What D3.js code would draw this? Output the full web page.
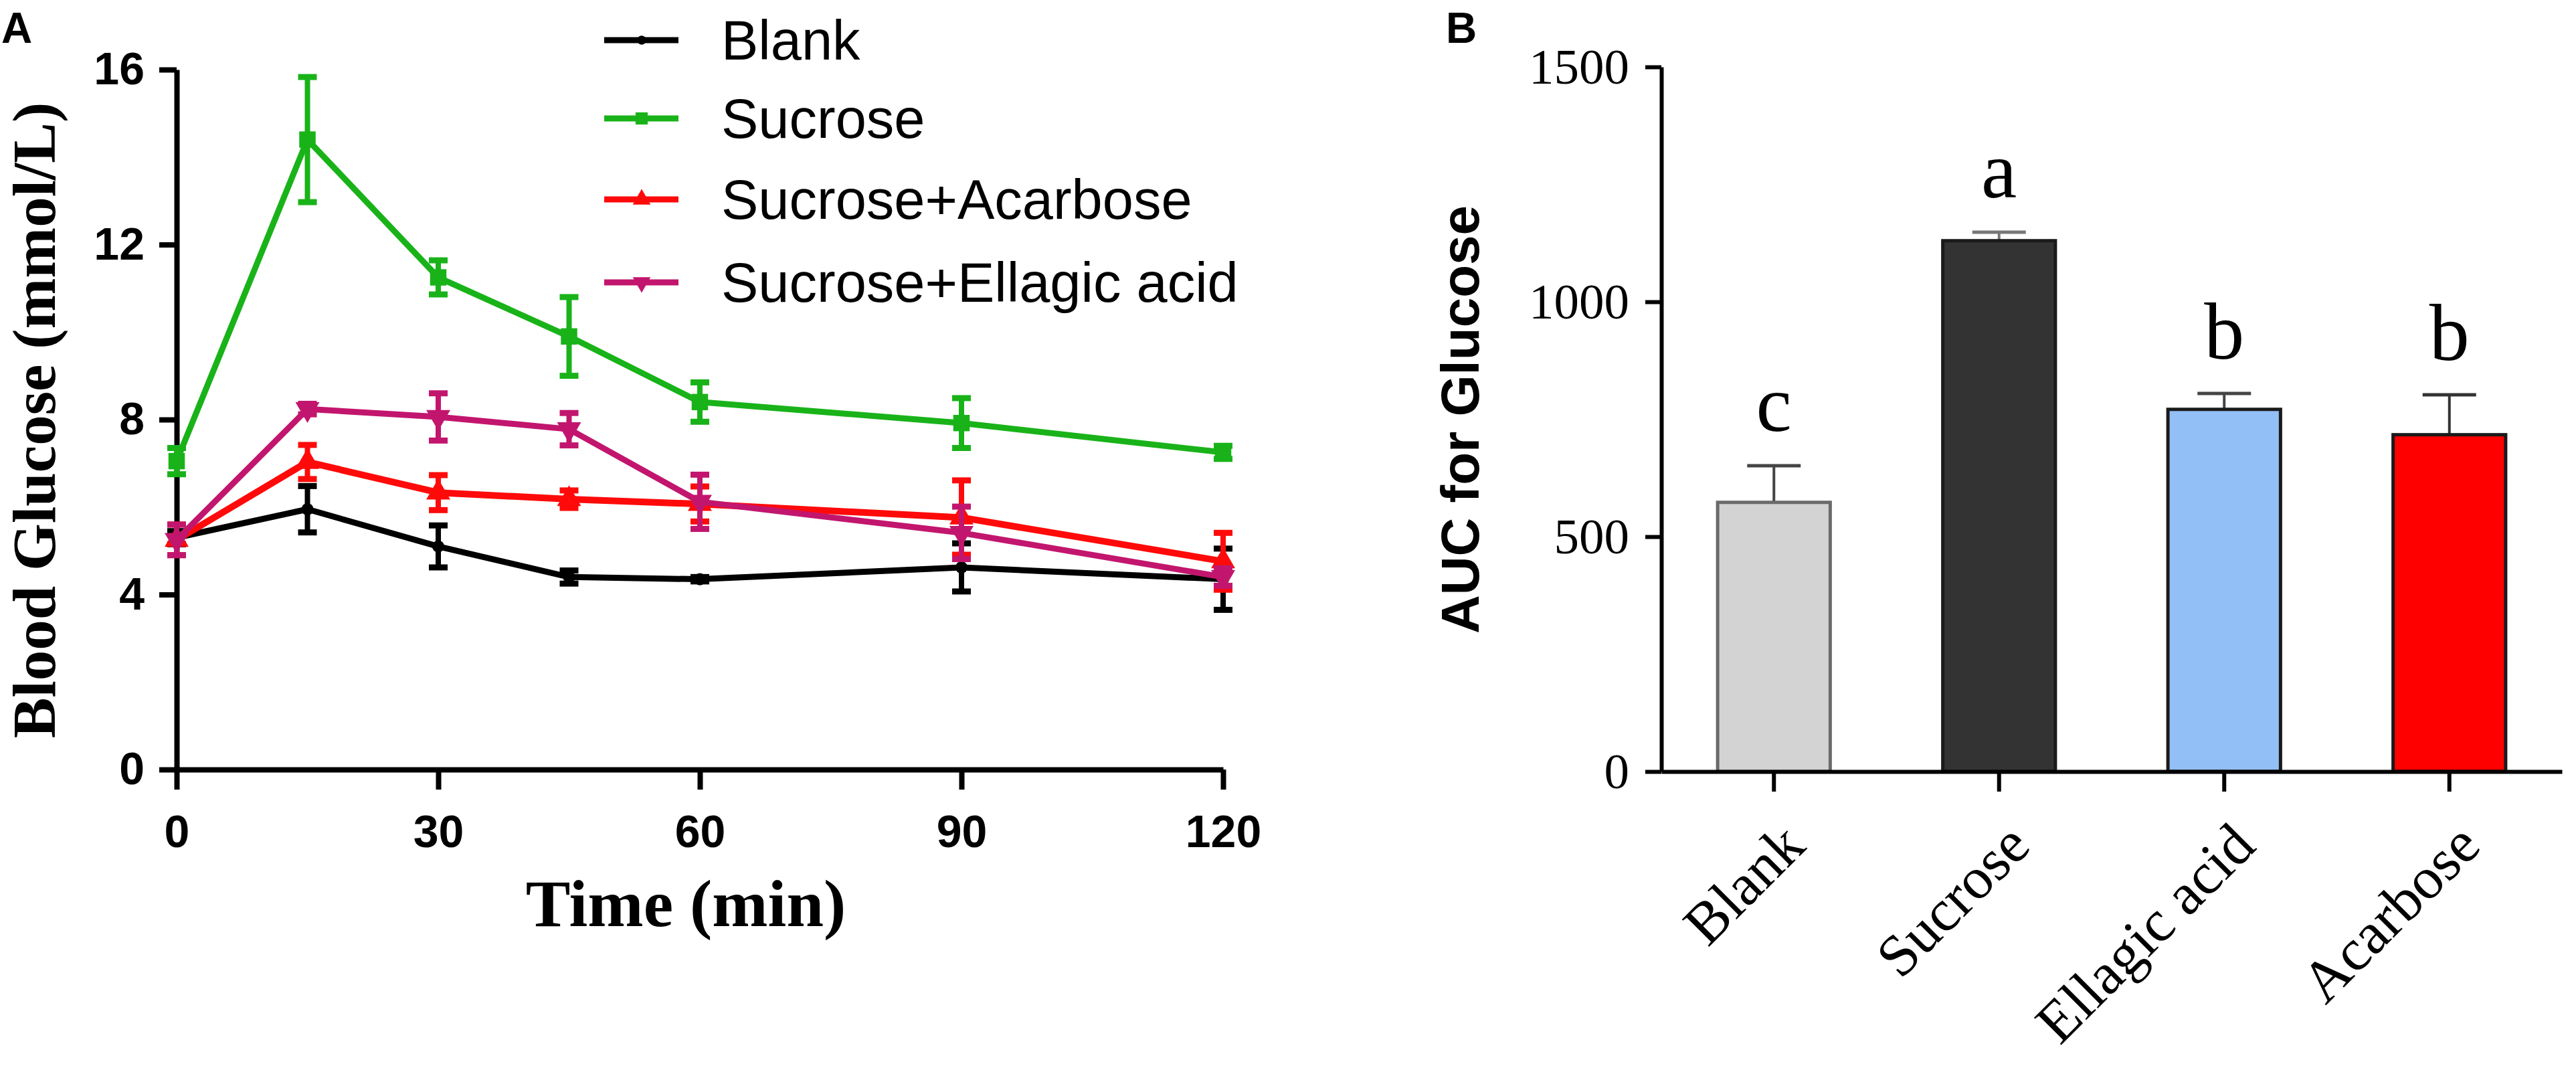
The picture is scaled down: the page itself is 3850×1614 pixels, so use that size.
<!DOCTYPE html>
<html>
<head>
<meta charset="utf-8">
<script src="https://cdn.jsdelivr.net/npm/d3@7"></script>
<style>
  body { margin: 0; background: #fff; }
  svg { display: block; }
</style>
</head>
<body>
<svg id="chart"></svg>
<script>
// panel A: blood glucose over time (mean, sem)
const times = [0, 15, 30, 45, 60, 90, 120];
const seriesNames = ['Blank', 'Sucrose', 'Sucrose+Acarbose', 'Sucrose+Ellagic acid'];
const blankMean = [5.3, 5.95, 5.1, 4.4, 4.35, 4.62, 4.35];
const blankSem = [0.15, 0.53, 0.48, 0.15, 0.05, 0.55, 0.7];
const sucroseMean = [7.05, 14.4, 11.25, 9.9, 8.4, 7.92, 7.25];
const sucroseSem = [0.3, 1.43, 0.39, 0.9, 0.45, 0.57, 0.15];
const acarboseMean = [5.25, 7.03, 6.33, 6.18, 6.07, 5.76, 4.76];
const acarboseSem = [0.35, 0.39, 0.4, 0.2, 0.4, 0.85, 0.65];
const ellagicMean = [5.25, 8.24, 8.06, 7.78, 6.12, 5.41, 4.4];
const ellagicSem = [0.35, 0.12, 0.54, 0.37, 0.62, 0.6, 0.2];
const glucoseTicks = [0, 4, 8, 12, 16];
const timeTicks = [0, 30, 60, 90, 120];

// panel B: AUC bars
const aucGroups = ['Blank', 'Sucrose', 'Ellagic acid', 'Acarbose'];
const aucMean = [573, 1130, 771, 717];
const aucSem = [78, 18, 34, 85];
const aucLetters = ['c', 'a', 'b', 'b'];
const aucTicks = [0, 500, 1000, 1500];

const W = 3850, H = 1614;
const sans = 'Liberation Sans, Arial, sans-serif';
const serif = 'Liberation Serif, Times New Roman, serif';

const svg = d3.select('#chart').attr('width', W).attr('height', H);
svg.append('rect').attr('width', W).attr('height', H).attr('fill', '#fff');

// ---------- panel A ----------
const lineColors = ['#000000', '#19b319', '#ff0a0a', '#c2166e'];
const lineSymbols = [d3.symbolCircle, d3.symbolSquare, d3.symbolTriangle, d3.symbolTriangle];
const symRotate = [0, 0, 0, 180];
const symSize = [260, 600, 560, 560];
const lineWidth = [9, 9, 10, 9];

const series = [
    {name: seriesNames[0], mean: blankMean, sem: blankSem},
    {name: seriesNames[1], mean: sucroseMean, sem: sucroseSem},
    {name: seriesNames[2], mean: acarboseMean, sem: acarboseSem},
    {name: seriesNames[3], mean: ellagicMean, sem: ellagicSem}
];

const xA = d3.scaleLinear().domain([0, 120]).range([264, 1828]);
const yA = d3.scaleLinear().domain([0, 16]).range([1150, 104]);

const gA = svg.append('g');

const axisYA = gA.append('g')
    .attr('transform', `translate(${xA(0)},0)`)
    .call(d3.axisLeft(yA).tickValues(glucoseTicks).tickSize(26).tickPadding(22).tickSizeOuter(0));
const axisXA = gA.append('g')
    .attr('transform', `translate(0,${yA(0)})`)
    .call(d3.axisBottom(xA).tickValues(timeTicks).tickSize(30).tickPadding(38).tickSizeOuter(0));

[axisYA, axisXA].forEach(ax => {
    ax.select('.domain').attr('stroke', '#000').attr('stroke-width', 8);
    ax.selectAll('.tick line').attr('stroke', '#000').attr('stroke-width', 8);
    ax.selectAll('.tick text')
        .attr('fill', '#000')
        .style('font-family', sans)
        .style('font-weight', 'bold')
        .style('font-size', '68px');
});

const line = d3.line().x((d, i) => xA(times[i])).y(d => yA(d));

series.forEach((s, k) => {
    const g = gA.append('g');
    const col = lineColors[k];
    // error bars
    const eb = g.selectAll('g.err').data(s.mean).join('g').attr('class', 'err');
    eb.append('line')
        .attr('x1', (d, i) => xA(times[i])).attr('x2', (d, i) => xA(times[i]))
        .attr('y1', (d, i) => yA(d + s.sem[i])).attr('y2', (d, i) => yA(d - s.sem[i]))
        .attr('stroke', col).attr('stroke-width', 8);
    [1, -1].forEach(sgn => {
        eb.append('line')
            .attr('x1', (d, i) => xA(times[i]) - 14).attr('x2', (d, i) => xA(times[i]) + 14)
            .attr('y1', (d, i) => yA(d + sgn * s.sem[i])).attr('y2', (d, i) => yA(d + sgn * s.sem[i]))
            .attr('stroke', col).attr('stroke-width', 9);
    });
    g.append('path')
        .datum(s.mean)
        .attr('d', line)
        .attr('fill', 'none')
        .attr('stroke', col)
        .attr('stroke-width', lineWidth[k])
        .attr('stroke-linejoin', 'round');
    g.selectAll('path.pt').data(s.mean).join('path')
        .attr('class', 'pt')
        .attr('d', d3.symbol().type(lineSymbols[k]).size(symSize[k]))
        .attr('transform', (d, i) => `translate(${xA(times[i])},${yA(d)}) rotate(${symRotate[k]})`)
        .attr('fill', col);
});

// legend
const legRows = [60, 177, 298, 422];
const leg = gA.selectAll('g.leg').data(series).join('g')
    .attr('class', 'leg')
    .attr('transform', (d, i) => `translate(0,${legRows[i]})`);
leg.append('line')
    .attr('x1', 903).attr('x2', 1014)
    .attr('stroke', (d, i) => lineColors[i]).attr('stroke-width', 9);
leg.append('path')
    .attr('d', (d, i) => d3.symbol().type(lineSymbols[i]).size(symSize[i] * 0.55)())
    .attr('transform', (d, i) => `translate(959,0) rotate(${symRotate[i]})`)
    .attr('fill', (d, i) => lineColors[i]);
leg.append('text')
    .attr('x', 1078).attr('dy', '0.35em')
    .style('font-family', sans).style('font-size', '83px')
    .text(d => d.name);

// titles
gA.append('text')
    .attr('transform', 'translate(82,628) rotate(-90)')
    .attr('text-anchor', 'middle')
    .style('font-family', serif).style('font-weight', 'bold').style('font-size', '91px')
    .text('Blood Glucose (mmol/L)');
gA.append('text')
    .attr('x', 1025).attr('y', 1384)
    .attr('text-anchor', 'middle')
    .style('font-family', serif).style('font-weight', 'bold').style('font-size', '100px')
    .text('Time (min)');
gA.append('text')
    .attr('x', 2).attr('y', 64)
    .style('font-family', sans).style('font-weight', 'bold').style('font-size', '64px')
    .text('A');

// ---------- panel B ----------
const barFill = ['#d3d3d3', '#333333', '#92bff5', '#ff0000'];
const barStroke = ['#6a6a6a', '#1a1a1a', '#1a1a1a', '#1a1a1a'];
const errStroke = ['#444', '#777', '#444', '#333'];

const xB = d3.scaleBand().domain(aucGroups).range([2483, 3829]).paddingInner(0.5).paddingOuter(0.25);
const yB = d3.scaleLinear().domain([0, 1500]).range([1153, 100]);

const gB = svg.append('g');

const bars = gB.selectAll('g.bar').data(aucGroups).join('g').attr('class', 'bar');
bars.append('line')
    .attr('x1', d => xB(d) + xB.bandwidth() / 2).attr('x2', d => xB(d) + xB.bandwidth() / 2)
    .attr('y1', (d, i) => yB(aucMean[i])).attr('y2', (d, i) => yB(aucMean[i] + aucSem[i]))
    .attr('stroke', (d, i) => errStroke[i]).attr('stroke-width', 4);
bars.append('line')
    .attr('x1', d => xB(d) + xB.bandwidth() / 2 - 40).attr('x2', d => xB(d) + xB.bandwidth() / 2 + 40)
    .attr('y1', (d, i) => yB(aucMean[i] + aucSem[i])).attr('y2', (d, i) => yB(aucMean[i] + aucSem[i]))
    .attr('stroke', (d, i) => errStroke[i]).attr('stroke-width', 5);
bars.append('rect')
    .attr('x', d => xB(d))
    .attr('y', (d, i) => yB(aucMean[i]))
    .attr('width', xB.bandwidth())
    .attr('height', (d, i) => yB(0) - yB(aucMean[i]))
    .attr('fill', (d, i) => barFill[i])
    .attr('stroke', (d, i) => barStroke[i])
    .attr('stroke-width', 5);
bars.append('text')
    .attr('x', d => xB(d) + xB.bandwidth() / 2)
    .attr('y', (d, i) => yB(aucMean[i] + aucSem[i]) - 52)
    .attr('text-anchor', 'middle')
    .style('font-family', serif).style('font-size', '120px')
    .text((d, i) => aucLetters[i]);

const axisYB = gB.append('g')
    .attr('transform', `translate(${xB.range()[0]},0)`)
    .call(d3.axisLeft(yB).tickValues(aucTicks).tickFormat(d3.format('d'))
        .tickSize(24).tickPadding(24).tickSizeOuter(0));
const axisXB = gB.append('g')
    .attr('transform', `translate(0,${yB(0)})`)
    .call(d3.axisBottom(xB).tickSize(30).tickSizeOuter(0));

[axisYB, axisXB].forEach(ax => {
    ax.select('.domain').attr('stroke', '#000').attr('stroke-width', 6);
    ax.selectAll('.tick line').attr('stroke', '#000').attr('stroke-width', 6);
    ax.selectAll('.tick text').attr('fill', '#000').style('font-family', serif);
});
axisYB.selectAll('.tick text').style('font-size', '75px');
axisXB.selectAll('.tick text')
    .attr('y', null).attr('dy', null)
    .attr('text-anchor', 'end')
    .attr('transform', 'translate(50,115) rotate(-45)')
    .style('font-size', '88px');

gB.append('text')
    .attr('transform', 'translate(2210,627) rotate(-90)')
    .attr('text-anchor', 'middle')
    .style('font-family', sans).style('font-weight', 'bold').style('font-size', '80px')
    .text('AUC for Glucose');
gB.append('text')
    .attr('x', 2161).attr('y', 64)
    .style('font-family', sans).style('font-weight', 'bold').style('font-size', '64px')
    .text('B');
</script>
</body>
</html>
